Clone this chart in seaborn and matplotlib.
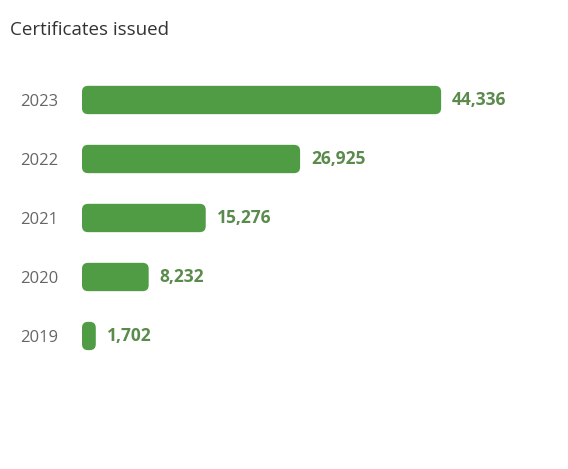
import matplotlib
matplotlib.use("Agg")
import matplotlib.pyplot as plt
import seaborn as sns
import pandas as pd
from matplotlib.patches import FancyBboxPatch

# data
years = ["2023", "2022", "2021", "2020", "2019"]
certificates = [44336, 26925, 15276, 8232, 1702]

bar_color = "#4f9c44"
label_color = "#5a8a4c"

sns.set_theme(style="white")
plt.rcParams["font.family"] = ["Open Sans", "DejaVu Sans"]

df = pd.DataFrame({"year": years, "count": certificates})

fig = plt.figure(figsize=(5.68, 4.69), dpi=100)
ax = fig.add_axes([82 / 568, 0.2207, 486 / 568, 0.629])

sns.barplot(data=df, x="count", y="year", order=years, color=bar_color,
            width=0.48, saturation=1, ax=ax)

ax.set_xlim(0, 60000)
ax.set_ylim(4.5, -0.5)

# swap the plain bars for rounded ones of the same size
px_x = 60000 / 486
px_y = 5 / 295
for bar in list(ax.patches):
    x, y = bar.get_x(), bar.get_y()
    w, h = bar.get_width(), bar.get_height()
    rounded = FancyBboxPatch((x, y), w, h,
                             boxstyle=f"round,pad=0,rounding_size={6 * px_x}",
                             mutation_aspect=px_y / px_x,
                             facecolor=bar_color, edgecolor="none")
    bar.remove()
    ax.add_patch(rounded)

for i, v in enumerate(certificates):
    ax.text(v + 11 * px_x, i, f"{v:,}", va="center", ha="left",
            fontsize=12.5, fontweight="bold", color=label_color)

ax.set_xlabel("")
ax.set_ylabel("")
ax.set_xticks([])
ax.tick_params(axis="y", length=0, pad=17, labelsize=12, labelcolor="#666666")
sns.despine(ax=ax, left=True, bottom=True)

fig.text(10 / 568, 1 - 30 / 469, "Certificates issued", fontsize=13.5,
         color="#333333", va="center", ha="left")

fig.savefig("out.png", dpi=100, facecolor="white")
